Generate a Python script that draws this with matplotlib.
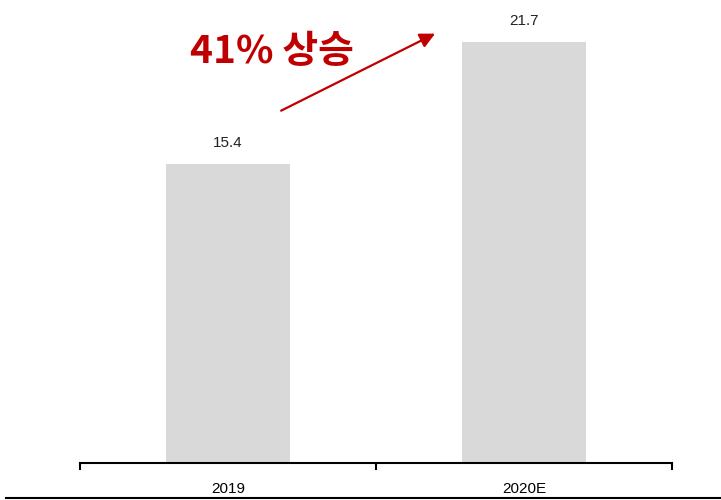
import matplotlib.pyplot as plt
from matplotlib.lines import Line2D

categories = ['2019', '2020E']
values = [15.4, 21.7]
value_labels = ['15.4', '21.7']
growth_label = '41% 상승'

plt.rcParams['font.family'] = ['Noto Sans CJK KR', 'DejaVu Sans']

fig = plt.figure(figsize=(7.21, 5), dpi=100)
ax = fig.add_axes([80 / 721, 37 / 500, 592 / 721, 463 / 500])

x = list(range(len(categories)))
ax.bar(x, values, width=0.42, color='#d9d9d9')
for xi, v, lab in zip(x, values, value_labels):
    ax.text(xi, v + 0.75, lab, ha='center', va='bottom', fontsize=11, color='#222222',
            family=['Liberation Sans', 'DejaVu Sans'])

ax.set_xlim(-0.5, 1.5)
ax.set_ylim(0, 23.87)
for s in ['top', 'right', 'left']:
    ax.spines[s].set_visible(False)
ax.spines['bottom'].set_linewidth(1.5)
ax.set_yticks([])
ax.set_xticks([-0.5, 0.5, 1.5])
ax.set_xticklabels([])
ax.tick_params(axis='x', which='major', direction='out', length=5, width=1.5)
ax.set_xticks(x, minor=True)
ax.set_xticklabels(categories, minor=True, fontsize=11,
                   family=['Liberation Sans', 'DejaVu Sans'])
ax.tick_params(axis='x', which='minor', length=0, pad=14)

# growth arrow and label
ax.annotate('', xy=(0.708, 22.2), xytext=(0.171, 18.1),
            arrowprops=dict(arrowstyle='-|>,head_length=0.9,head_width=0.45',
                            color='#c00000', lw=1.6))
ax.text(-0.128, 21.2, growth_label, ha='left', va='center', fontsize=28,
        fontweight='bold', color='#c00000')

fig.add_artist(Line2D([6 / 721, 1], [2 / 500, 2 / 500], color='black', lw=1.5))

fig.savefig('out.png', dpi=100)
